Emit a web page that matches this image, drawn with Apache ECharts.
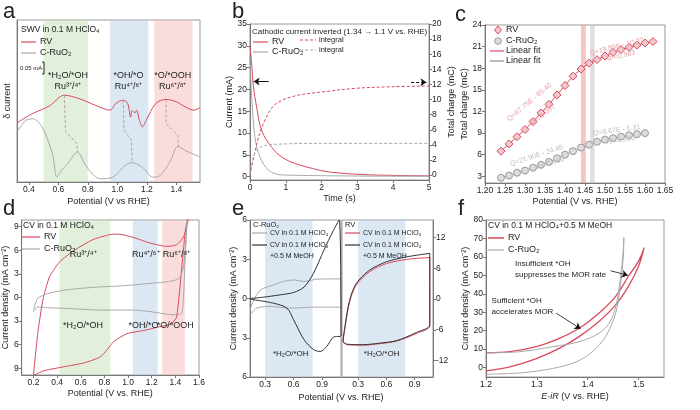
<!DOCTYPE html>
<html><head><meta charset="utf-8">
<script src="https://cdn.jsdelivr.net/npm/echarts@6/dist/echarts.min.js"></script>
<style>html,body{margin:0;background:#fff}#c{width:700px;height:410px}</style>
</head><body><div id="c"></div>
<script>
// ---- data ----
// a: SWV, arbitrary delta current
const aRv = [[0.32,0.365],[0.42,0.42],[0.54,0.47],[0.64,0.536],[0.74,0.515],[0.85,0.474],[0.95,0.443],[0.99,0.485],[1.04,0.505],[1.07,0.485],[1.09,0.40],[1.10,0.44],[1.12,0.427],[1.13,0.443],[1.15,0.38],[1.17,0.34],[1.195,0.38],[1.26,0.485],[1.33,0.51],[1.40,0.495],[1.46,0.464],[1.52,0.443],[1.56,0.46]]
const aRuO2 = [[0.32,0.31],[0.38,0.38],[0.43,0.39],[0.49,0.34],[0.56,0.175],[0.59,0.03],[0.62,0.07],[0.66,0.11],[0.73,0.185],[0.78,0.11],[0.83,0.05],[0.88,0.02],[0.97,0.03],[1.05,0.10],[1.10,0.12],[1.17,0.09],[1.24,0.03],[1.29,0.04],[1.36,0.13],[1.41,0.22],[1.47,0.19],[1.56,0.155]]
const aLink1 = [[0.64,0.536],[0.65,0.31],[0.725,0.237],[0.73,0.185]]
const aLink2 = [[1.04,0.505],[1.045,0.32],[1.095,0.258],[1.10,0.124]]
const aLink3 = [[1.33,0.51],[1.33,0.36],[1.41,0.289],[1.415,0.217]]
// b: current (mA) and integral (mC) vs time (s)
const bRvCur = [[0,30],[0.05,25.5],[0.09,21],[0.19,15.7],[0.33,10.5],[0.61,6.7],[0.89,4.5],[1.27,3],[1.74,1.9],[2.2,1.1],[3.14,0.5],[4.08,0.3],[5,0.2]]
const bRuCur = [[0,27.7],[0.05,18],[0.14,9],[0.28,4.5],[0.52,1.5],[0.89,0.4],[5,0.1]]
const bRvInt = [[0,0],[0.19,4.1],[0.33,6.3],[0.61,8.9],[0.89,9.9],[1.27,10.5],[1.5,10.7],[2,11.0],[3,11.5],[4,11.7],[5,11.8]]
const bRuInt = [[0,0],[0.1,2.5],[0.2,3.4],[0.4,3.9],[0.8,4.1],[2,4.2],[5,4.2]]
// c: total charge vs potential
const cRvE = [1.24,1.26,1.28,1.30,1.32,1.34,1.36,1.38,1.40,1.42,1.44,1.46,1.48,1.50,1.52,1.54,1.56,1.58,1.60,1.62]
const cRvQ = [6.5,7.5,8.5,9.5,10.6,11.8,13.0,14.3,15.6,16.9,17.9,18.7,19.2,19.7,20.2,20.6,20.9,21.2,21.5,21.7]
const cRuE = [1.24,1.26,1.28,1.30,1.32,1.34,1.36,1.38,1.40,1.42,1.44,1.46,1.48,1.50,1.52,1.54,1.56,1.58,1.60]
const cRuQ = [2.8,3.1,3.5,3.8,4.2,4.6,5.0,5.5,6.0,6.5,7.0,7.4,7.8,8.1,8.3,8.5,8.7,8.85,9.0]
// d: CV in HClO4
const dRv = [[0.2,-9.9],[0.236,-4.6],[0.28,-0.3],[0.335,2.6],[0.42,4.5],[0.545,6.0],[0.71,7.4],[0.85,8.0],[0.92,8.05],[1.05,7.6],[1.19,6.9],[1.33,6.5],[1.41,6.7],[1.47,7.7],[1.51,9.9],[1.50,9.9],[1.455,3.9],[1.41,-2.5],[1.36,-3.4],[1.27,-3.7],[1.13,-4.2],[0.99,-4.6],[0.88,-5.6],[0.77,-7.5],[0.63,-8.3],[0.46,-8.8],[0.29,-9.3],[0.2,-9.9]]
const dRuO2 = [[0.2,-1.6],[0.236,-0.1],[0.32,0.5],[0.49,1.0],[0.63,1.2],[0.77,1.35],[0.91,1.45],[1.05,1.6],[1.19,1.8],[1.33,2.0],[1.43,2.4],[1.47,3.9],[1.5,9.9],[1.48,3.9],[1.455,-2.0],[1.38,-2.2],[1.19,-1.8],[1.05,-1.6],[0.77,-1.6],[0.49,-1.4],[0.32,-1.3],[0.236,-1.2],[0.2,-1.8]]
// e: CV with/without MeOH
const eRuAcid = [[0.14,-0.87],[0.18,-0.1],[0.25,0.66],[0.39,1.04],[0.49,1.3],[0.6,1.42],[0.71,1.3],[0.85,1.48],[1.1,1.5],[1.1,-0.66],[0.81,-0.66],[0.56,-0.74],[0.35,-0.6],[0.21,-0.74],[0.14,-1.25]]
const eRuMeoh = [[0.14,0],[0.28,0.1],[0.46,0.28],[0.6,0.46],[0.71,0.87],[0.81,1.93],[0.92,3.7],[1.02,5.2],[1.08,6],[1.1,-2.85],[1.02,-2.95],[0.95,-3.66],[0.88,-4.05],[0.81,-3.9],[0.71,-3.15],[0.6,-1.63],[0.53,-0.74],[0.39,-0.36],[0.14,-0.05]]
const eRvAcid = [[0.14,-8.1],[0.16,-5.7],[0.21,-0.6],[0.28,2.7],[0.42,5.3],[0.6,6.9],[0.81,7.7],[1.06,8.1],[1.06,-5.2],[0.92,-6.7],[0.71,-8.2],[0.53,-8.7],[0.35,-9.0],[0.18,-8.9],[0.14,-8.1]]
const eRvMeoh = [[0.14,-8.4],[0.16,-5.5],[0.21,-0.3],[0.28,3.0],[0.42,5.6],[0.6,7.25],[0.81,8.2],[1.06,8.9],[1.06,-5.0],[0.92,-6.5],[0.71,-8.1],[0.53,-8.6],[0.35,-8.9],[0.18,-8.8],[0.14,-8.4]]
// f: CV in HClO4 + MeOH
const fRv = [[1.2,8.0],[1.247,8.6],[1.299,11.3],[1.344,15.8],[1.383,21.3],[1.422,29.5],[1.455,38.6],[1.48,49.5],[1.5,57.7],[1.511,65],[1.5,55],[1.48,44],[1.455,34],[1.422,25],[1.383,16.8],[1.344,10.4],[1.299,4.9],[1.247,0.4],[1.2,-1.8]]
const fRuO2 = [[1.2,8.0],[1.266,8.6],[1.331,11.3],[1.383,14],[1.422,18.6],[1.442,24],[1.455,33],[1.464,47.7],[1.47,64],[1.471,70.5],[1.47,60],[1.464,44],[1.455,29.5],[1.435,16.8],[1.409,8.6],[1.377,3.1],[1.331,-0.5],[1.266,-2.9],[1.2,-3.6]]

const RED = '#d64a5c', GREY = '#a8a8a8', DARK = '#333', TXT = '#222'
const FONT = 'Liberation Sans'
const GREEN_BAND = 'rgba(200,225,190,0.55)', BLUE_BAND = 'rgba(190,212,234,0.55)', RED_BAND = 'rgba(248,196,196,0.6)'

const chart = echarts.init(document.getElementById('c'), null, { renderer: 'canvas' })

const grid = (left, top, width, height) => ({ left, top, width, height, show: true, borderColor: '#999', borderWidth: 1, backgroundColor: 'transparent' })
const lab = { color: TXT, fontSize: 8.5, fontFamily: FONT, margin: 3 }
const ax = (o) => Object.assign({
  type: 'value', splitLine: { show: false },
  axisLine: { show: true, onZero: false, lineStyle: { color: '#777' } },
  axisTick: { show: true, length: 3, lineStyle: { color: '#777' } },
  nameTextStyle: { color: TXT, fontSize: 9, fontFamily: FONT }, nameLocation: 'middle'
}, o)
const custom = (vals, fmt) => ({ axisLabel: Object.assign({}, lab, { customValues: vals, formatter: fmt }), axisTick: { show: true, length: 3, customValues: vals, lineStyle: { color: '#777' } } })
const absFmt = (v) => String(Math.abs(v))
const band = (ranges) => ({ silent: true, z: 1, data: ranges.map(([a, b, c]) => [{ xAxis: a, itemStyle: { color: c } }, { xAxis: b }]) })
const line = (name, xi, yi, data, color, width, extra) => Object.assign({
  name, type: 'line', xAxisIndex: xi, yAxisIndex: yi, data, symbol: 'none', smooth: 0.35,
  lineStyle: { color, width }, itemStyle: { color }, z: 3, silent: true
}, extra || {})

const option = {
  animation: false,
  grid: [grid(17, 20, 183, 162), grid(250, 24, 179, 156), grid(485, 25, 180, 158),
    grid(21, 220, 178, 155), grid(250, 220, 91, 157), grid(342, 220, 91, 157), grid(486, 220, 178, 157)],
  xAxis: [
    ax(Object.assign({ gridIndex: 0, min: 0.32, max: 1.56, name: 'Potential (V vs RHE)', nameGap: 15 }, custom([0.4, 0.6, 0.8, 1.0, 1.2, 1.4], v => v.toFixed(1)))),
    ax(Object.assign({ gridIndex: 1, min: 0, max: 5, interval: 1, name: 'Time (s)', nameGap: 14, axisLabel: lab })),
    ax(Object.assign({ gridIndex: 2, min: 1.2, max: 1.65, name: 'Potential (V vs. RHE)', nameGap: 14 }, custom([1.2, 1.25, 1.3, 1.35, 1.4, 1.45, 1.5, 1.55, 1.6, 1.65], v => v.toFixed(2)))),
    ax(Object.assign({ gridIndex: 3, min: 0.1, max: 1.6, name: 'Potential (V vs. RHE)', nameGap: 14 }, custom([0.2, 0.4, 0.6, 0.8, 1.0, 1.2, 1.4, 1.6], v => v.toFixed(1)))),
    ax(Object.assign({ gridIndex: 4, min: 0.14, max: 1.1 }, custom([0.3, 0.6, 0.9], v => v.toFixed(1)))),
    ax(Object.assign({ gridIndex: 5, min: 0.13, max: 1.094 }, custom([0.3, 0.6, 0.9], v => v.toFixed(1)))),
    ax(Object.assign({ gridIndex: 6, min: 1.2, max: 1.55, name: '{i|E-iR} (V vs. RHE)', nameGap: 15,
      nameTextStyle: { color: TXT, fontSize: 9, fontFamily: FONT, rich: { i: { fontStyle: 'italic', fontSize: 9, fontFamily: FONT, color: TXT } } } },
      custom([1.2, 1.3, 1.4, 1.5], v => v.toFixed(1))))
  ],
  yAxis: [
    ax({ gridIndex: 0, min: 0, max: 1, name: 'δ current', nameGap: 5, axisLabel: { show: false }, axisTick: { show: false } }),
    ax(Object.assign({ gridIndex: 1, min: -0.75, max: 35, name: 'Current (mA)', nameGap: 16 }, custom([0, 5, 10, 15, 20, 25, 30, 35], String))),
    ax(Object.assign({ gridIndex: 1, position: 'right', min: -0.65, max: 20, name: 'Total charge (mC)', nameGap: 18 }, custom([0, 2, 4, 6, 8, 10, 12, 14, 16, 18, 20], String))),
    ax(Object.assign({ gridIndex: 2, min: 2.08, max: 24, name: 'Total charge (mC)', nameGap: 16 }, custom([3, 6, 9, 12, 15, 18, 21, 24], String))),
    ax(Object.assign({ gridIndex: 3, min: -9.85, max: 9.85, name: 'Current density (mA cm⁻²)', nameGap: 10 }, custom([-9, -6, -3, 0, 3, 6, 9], absFmt))),
    ax(Object.assign({ gridIndex: 4, min: -6, max: 6, name: 'Current density (mA cm⁻²)', nameGap: 10 }, custom([-6, -3, 0, 3, 6], absFmt))),
    ax(Object.assign({ gridIndex: 5, position: 'right', min: -15.2, max: 15.4 }, custom([-12, -6, 0, 6, 12], String))),
    ax(Object.assign({ gridIndex: 6, min: -5.1, max: 80, name: 'Current density (mA cm⁻²)', nameGap: 16 }, custom([0, 10, 20, 30, 40, 50, 60, 70, 80], String)))
  ],
  series: [
    // a
    line('RV', 0, 0, aRv, RED, 1, { smooth: 0.3, markArea: band([[0.5, 0.8, GREEN_BAND], [0.95, 1.21, BLUE_BAND], [1.25, 1.51, RED_BAND]]) }),
    line('C-RuO2', 0, 0, aRuO2, GREY, 1, { smooth: 0.3 }),
    line('l1', 0, 0, aLink1, '#b08890', 0.8, { smooth: false, lineStyle: { color: '#b08890', width: 0.8, type: [3, 2] } }),
    line('l2', 0, 0, aLink2, '#b08890', 0.8, { smooth: false, lineStyle: { color: '#b08890', width: 0.8, type: [3, 2] } }),
    line('l3', 0, 0, aLink3, '#b08890', 0.8, { smooth: false, lineStyle: { color: '#b08890', width: 0.8, type: [3, 2] } }),
    // b
    line('RV', 1, 1, bRvCur, RED, 1, { markLine: { silent: true, symbol: ['arrow', 'none'], symbolSize: 6, label: { show: false },
      lineStyle: { color: '#111', width: 1, type: 'solid' }, data: [[{ coord: [0.1, 21.8] }, { coord: [0.52, 21.8] }]] } }),
    line('C-RuO2', 1, 1, bRuCur, GREY, 1),
    line('RV integral', 1, 2, bRvInt, RED, 1, { lineStyle: { color: RED, width: 1, type: [3, 2] }, markLine: { silent: true, symbol: ['none', 'arrow'], symbolSize: 6, label: { show: false },
      lineStyle: { color: '#111', width: 1, type: [3, 2] }, data: [[{ coord: [4.5, 12.3] }, { coord: [4.93, 12.3] }]] } }),
    line('C-RuO2 integral', 1, 2, bRuInt, GREY, 1, { lineStyle: { color: GREY, width: 1, type: [3, 2] } }),
    // c
    line('RV', 2, 3, cRvE.map((e, i) => [e, cRvQ[i]]), RED, 1, { smooth: false, symbol: 'diamond', symbolSize: 8,
      itemStyle: { color: '#f4c7cb', borderColor: RED, borderWidth: 1 },
      markArea: band([[1.44, 1.452, 'rgba(240,150,150,0.55)'], [1.463, 1.474, 'rgba(200,200,200,0.6)']]) }),
    line('C-RuO2', 2, 3, cRuE.map((e, i) => [e, cRuQ[i]]), GREY, 1, { smooth: false, symbol: 'circle', symbolSize: 7,
      itemStyle: { color: '#dcdcdc', borderColor: '#999', borderWidth: 1 } }),
    // d
    line('RV', 3, 4, dRv, RED, 1, { smooth: 0.2, markArea: band([[0.42, 0.85, GREEN_BAND], [1.04, 1.25, BLUE_BAND], [1.29, 1.48, RED_BAND]]) }),
    line('C-RuO2', 3, 4, dRuO2, GREY, 1, { smooth: 0.2 }),
    // e
    line('C-RuO2 acid', 4, 5, eRuAcid, GREY, 1, { smooth: 0.25, markArea: band([[0.3, 0.8, BLUE_BAND]]) }),
    line('C-RuO2 MeOH', 4, 5, eRuMeoh, DARK, 1, { smooth: 0.3 }),
    line('RV acid', 5, 6, eRvAcid, RED, 1, { smooth: 0.3, markArea: band([[0.3, 0.8, BLUE_BAND]]) }),
    line('RV MeOH', 5, 6, eRvMeoh, DARK, 1, { smooth: 0.3 }),
    // f
    line('RV', 6, 7, fRv, RED, 1.3, { smooth: 0.35, markLine: { silent: true, symbol: ['none', 'arrow'], symbolSize: 6, label: { show: false },
      lineStyle: { color: '#111', width: 0.8, type: 'solid' },
      data: [[{ coord: [1.445, 52.5] }, { coord: [1.479, 50] }], [{ coord: [1.338, 29.5] }, { coord: [1.386, 21] }]] } }),
    line('C-RuO2', 6, 7, fRuO2, GREY, 1, { smooth: 0.35 })
  ]
}
chart.setOption(option)

// ---- annotations: legends at fixed spots, labels anchored to data ----
const g = []
const T = (x, y, text, o) => g.push({ type: 'text', x, y, z: 100, silent: true, style: Object.assign({ text, fill: TXT, font: `9px "${FONT}"`, textVerticalAlign: 'middle' }, o || {}) })
const L = (x1, y, x2, color, dash, w) => g.push({ type: 'line', z: 100, silent: true, shape: { x1, y1: y, x2, y2: y }, style: { stroke: color, lineWidth: w || 1.2, lineDash: dash || null } })
const P = (gi, pt) => chart.convertToPixel({ gridIndex: gi }, pt)
const D = (gi, pt, text, o) => { const p = P(gi, pt); T(p[0], p[1], text, Object.assign({ textAlign: 'center' }, o || {})) }

// panel letters
const big = { font: `22px "${FONT}"`, textVerticalAlign: 'top' }
T(3, 1, 'a', big); T(232, 1, 'b', big); T(455, 4, 'c', big)
T(3, 198, 'd', big); T(232, 198, 'e', big); T(458, 198, 'f', big)

// a
T(21, 30, 'SWV in 0.1 M HClO₄', { font: `8.5px "${FONT}"` })
L(21, 42, 36, RED); T(40, 42, 'RV'); L(21, 53, 36, GREY); T(40, 53, 'C-RuO₂')
T(20, 68, '0.05 mA', { font: `6px "${FONT}"` })
g.push({ type: 'polyline', z: 100, silent: true, shape: { points: [[42, 62], [44, 62], [44, 74], [42, 74]] }, style: { stroke: '#222', fill: null, lineWidth: 1 } })
D(0, [0.665, 0.66], '*H₂O/*OH'); D(0, [0.665, 0.59], 'Ru³⁺/⁴⁺')
D(0, [1.075, 0.66], '*OH/*O'); D(0, [1.075, 0.59], 'Ru⁴⁺/⁶⁺')
D(0, [1.375, 0.66], '*O/*OOH'); D(0, [1.375, 0.59], 'Ru⁶⁺/⁸⁺')

// b
T(252, 32, 'Cathodic current inverted (1.34 → 1.1 V vs. RHE)', { font: `8px "${FONT}"` })
L(253, 42, 268, RED); T(272, 42, 'RV'); L(253, 52, 268, GREY); T(272, 52, 'C-RuO₂')
L(300, 40, 316, RED, [3, 2]); T(319, 40, 'integral', { font: `7.5px "${FONT}"` })
L(300, 50, 316, GREY, [3, 2]); T(319, 50, 'integral', { font: `7.5px "${FONT}"` })

// c
const cs = (x, y, sym, fill, stroke) => g.push({ type: sym === 'diamond' ? 'polygon' : 'circle', z: 100, silent: true,
  shape: sym === 'diamond' ? { points: [[x, y - 4], [x + 3.5, y], [x, y + 4], [x - 3.5, y]] } : { cx: x, cy: y, r: 3.3 }, style: { fill, stroke, lineWidth: 1 } })
cs(498, 30, 'diamond', '#f4c7cb', RED); T(506, 30, 'RV')
cs(498, 41, 'circle', '#dcdcdc', '#999'); T(506, 41, 'C-RuO₂')
L(490, 51, 504, RED); T(506, 51, 'Linear fit'); L(490, 61, 504, GREY, null, 1.5); T(506, 61, 'Linear fit')
const rot = (gi, pt, text, color, deg) => { const p = P(gi, pt); g.push({ type: 'text', x: p[0], y: p[1], z: 100, rotation: deg * Math.PI / 180, silent: true,
  style: { text, fill: color, font: `7px "${FONT}"`, textAlign: 'center', textVerticalAlign: 'middle' } }) }
rot(2, [1.311, 13.3], 'Q=67.75E - 85.40', '#e6a0a8', 40); rot(2, [1.346, 11.5], 'R²=0.997', '#e6a0a8', 40)
rot(2, [1.529, 21.0], 'Q=19.86E - 10.32', '#e6a0a8', 14); rot(2, [1.54, 19.7], 'R²=0.983', '#e6a0a8', 14)
rot(2, [1.329, 5.9], 'Q=21.90E - 24.45', '#bdbdbd', 18); rot(2, [1.363, 4.8], 'R²=0.996', '#bdbdbd', 18)
rot(2, [1.529, 9.4], 'Q=9.67E - 5.31', '#bdbdbd', 8); rot(2, [1.54, 8.0], 'R²=0.990', '#bdbdbd', 8)

// d
T(23, 226, 'CV in 0.1 M HClO₄', { font: `8.5px "${FONT}"` })
L(22, 237, 40, RED); T(44, 237, 'RV'); L(22, 249, 40, GREY); T(44, 249, 'C-RuO₂')
D(3, [0.62, 5.5], 'Ru³⁺/⁴⁺'); D(3, [1.15, 5.5], 'Ru⁴⁺/⁶⁺'); D(3, [1.41, 5.5], 'Ru⁶⁺/⁸⁺')
D(3, [0.62, -3.6], '*H₂O/*OH'); D(3, [1.13, -3.6], '*OH/*O'); D(3, [1.4, -3.6], '*O/*OOH')

// e
T(253, 225, 'C-RuO₂', { font: `7.5px "${FONT}"` })
L(252, 233, 267, GREY); T(270, 233, 'CV in 0.1 M HClO₄', { font: `7px "${FONT}"` })
L(252, 245, 267, DARK); T(270, 245, 'CV in 0.1 M HClO₄', { font: `7px "${FONT}"` }); T(270, 256, '+0.5 M MeOH', { font: `7px "${FONT}"` })
T(345, 225, 'RV', { font: `7.5px "${FONT}"` })
L(345, 233, 360, RED); T(363, 233, 'CV in 0.1 M HClO₄', { font: `7px "${FONT}"` })
L(345, 245, 360, DARK); T(363, 245, 'CV in 0.1 M HClO₄', { font: `7px "${FONT}"` }); T(363, 256, '+0.5 M MeOH', { font: `7px "${FONT}"` })
D(4, [0.57, -4.2], '*H₂O/*OH', { font: `8px "${FONT}"` }); D(5, [0.55, -10.7], '*H₂O/*OH', { font: `8px "${FONT}"` })
T(341, 398, 'Potential (V vs. RHE)', { textAlign: 'center' })

// f
T(488, 226, 'CV in 0.1 M HClO₄+0.5 M MeOH', { font: `8.5px "${FONT}"` })
L(488, 238, 504, RED, null, 1.5); T(508, 238, 'RV'); L(488, 250, 504, GREY); T(508, 250, 'C-RuO₂')
const pf1 = P(6, [1.257, 56]); T(pf1[0], pf1[1], 'Insufficient *OH', { font: `8px "${FONT}"` }); T(pf1[0], pf1[1] + 11, 'suppresses the MOR rate', { font: `8px "${FONT}"` })
const pf2 = P(6, [1.211, 36]); T(pf2[0], pf2[1], 'Sufficient *OH', { font: `8px "${FONT}"` }); T(pf2[0], pf2[1] + 11, 'accelerates MOR', { font: `8px "${FONT}"` })

chart.setOption({ graphic: g })
</script>
</body></html>
